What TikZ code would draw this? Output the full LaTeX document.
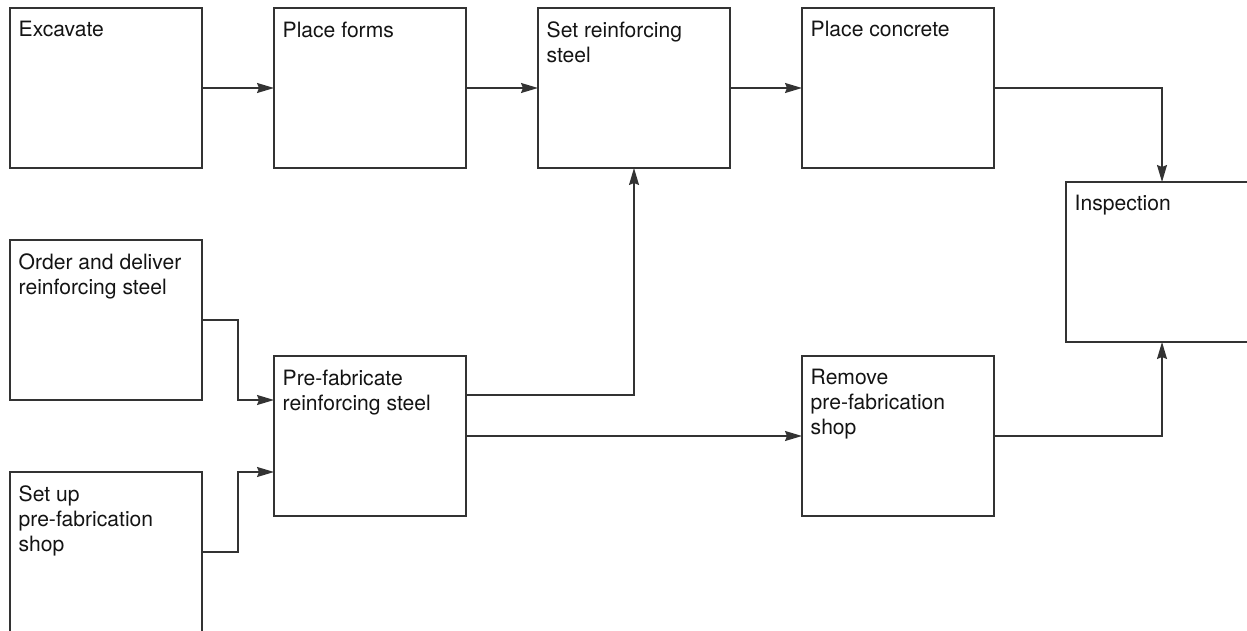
\documentclass[tikz,border=0pt]{standalone}
\usepackage{fontspec}
\setmainfont{TeX Gyre Heros}
\usetikzlibrary{arrows.meta}
\definecolor{ink}{gray}{0.2}
\definecolor{txt}{gray}{0.08}
\begin{document}
\begin{tikzpicture}[x=1pt,y=-1pt,
  box/.style={draw=ink,line width=1.4pt,rectangle,anchor=north west,
    minimum width=192pt,minimum height=160pt,inner sep=0pt,outer sep=0pt},
  lbl/.style={anchor=north west,inner sep=0pt,align=left,text=txt,
    font=\fontsize{21.1}{25}\selectfont},
  arr/.style={draw=ink,line width=1.4pt,
    -{Stealth[length=17pt,width=10pt,inset=2pt]}}]
  \clip (0,0) rectangle (1247,631);
  \useasboundingbox (0,0) rectangle (1247,631);

  % activity boxes
  \node[box] (exc)      at (10,8)     {};
  \node[box] (forms)    at (274,8)    {};
  \node[box] (setsteel) at (538,8)    {};
  \node[box] (concrete) at (802,8)    {};
  \node[box] (insp)     at (1066,182) {};
  \node[box] (order)    at (10,240)   {};
  \node[box] (prefab)   at (274,356)  {};
  \node[box] (remove)   at (802,356)  {};
  \node[box] (setup)    at (10,472)   {};

  % box captions
  \node[lbl] (exc-l)      at ([xshift=8.5pt,yshift=-13.4pt]exc.north west)      {Excavate};
  \node[lbl] (forms-l)    at ([xshift=8.5pt,yshift=-13.4pt]forms.north west)    {Place forms};
  \node[lbl] (setsteel-l) at ([xshift=8.5pt,yshift=-13.4pt]setsteel.north west) {Set reinforcing\\steel};
  \node[lbl] (concrete-l) at ([xshift=8.5pt,yshift=-13.4pt]concrete.north west) {Place concrete};
  \node[lbl] (insp-l)     at ([xshift=8.5pt,yshift=-13.4pt]insp.north west)     {Inspection};
  \node[lbl] (order-l)    at ([xshift=8.5pt,yshift=-13.4pt]order.north west)    {Order and deliver\\reinforcing steel};
  \node[lbl] (prefab-l)   at ([xshift=8.5pt,yshift=-13.4pt]prefab.north west)   {Pre-fabricate\\reinforcing steel};
  \node[lbl] (remove-l)   at ([xshift=8.5pt,yshift=-13.4pt]remove.north west)   {Remove\\pre-fabrication\\shop};
  \node[lbl] (setup-l)    at ([xshift=8.5pt,yshift=-13.4pt]setup.north west)    {Set up\\pre-fabrication\\shop};

  % precedence links
  \draw[arr] (exc) -- (forms);
  \draw[arr] (forms) -- (setsteel);
  \draw[arr] (setsteel) -- (concrete);
  \draw[arr] (concrete.east) -| (insp.north);
  \draw[arr] (order.east) -- ++(36,0) |- ([yshift=36pt]prefab.west);
  \draw[arr] (setup.east) -- ++(36,0) |- ([yshift=-36pt]prefab.west);
  \draw[arr] ([yshift=41pt]prefab.east) -| (setsteel.south);
  \draw[arr] (prefab) -- (remove);
  \draw[arr] (remove.east) -| (insp.south);
\end{tikzpicture}
\end{document}
